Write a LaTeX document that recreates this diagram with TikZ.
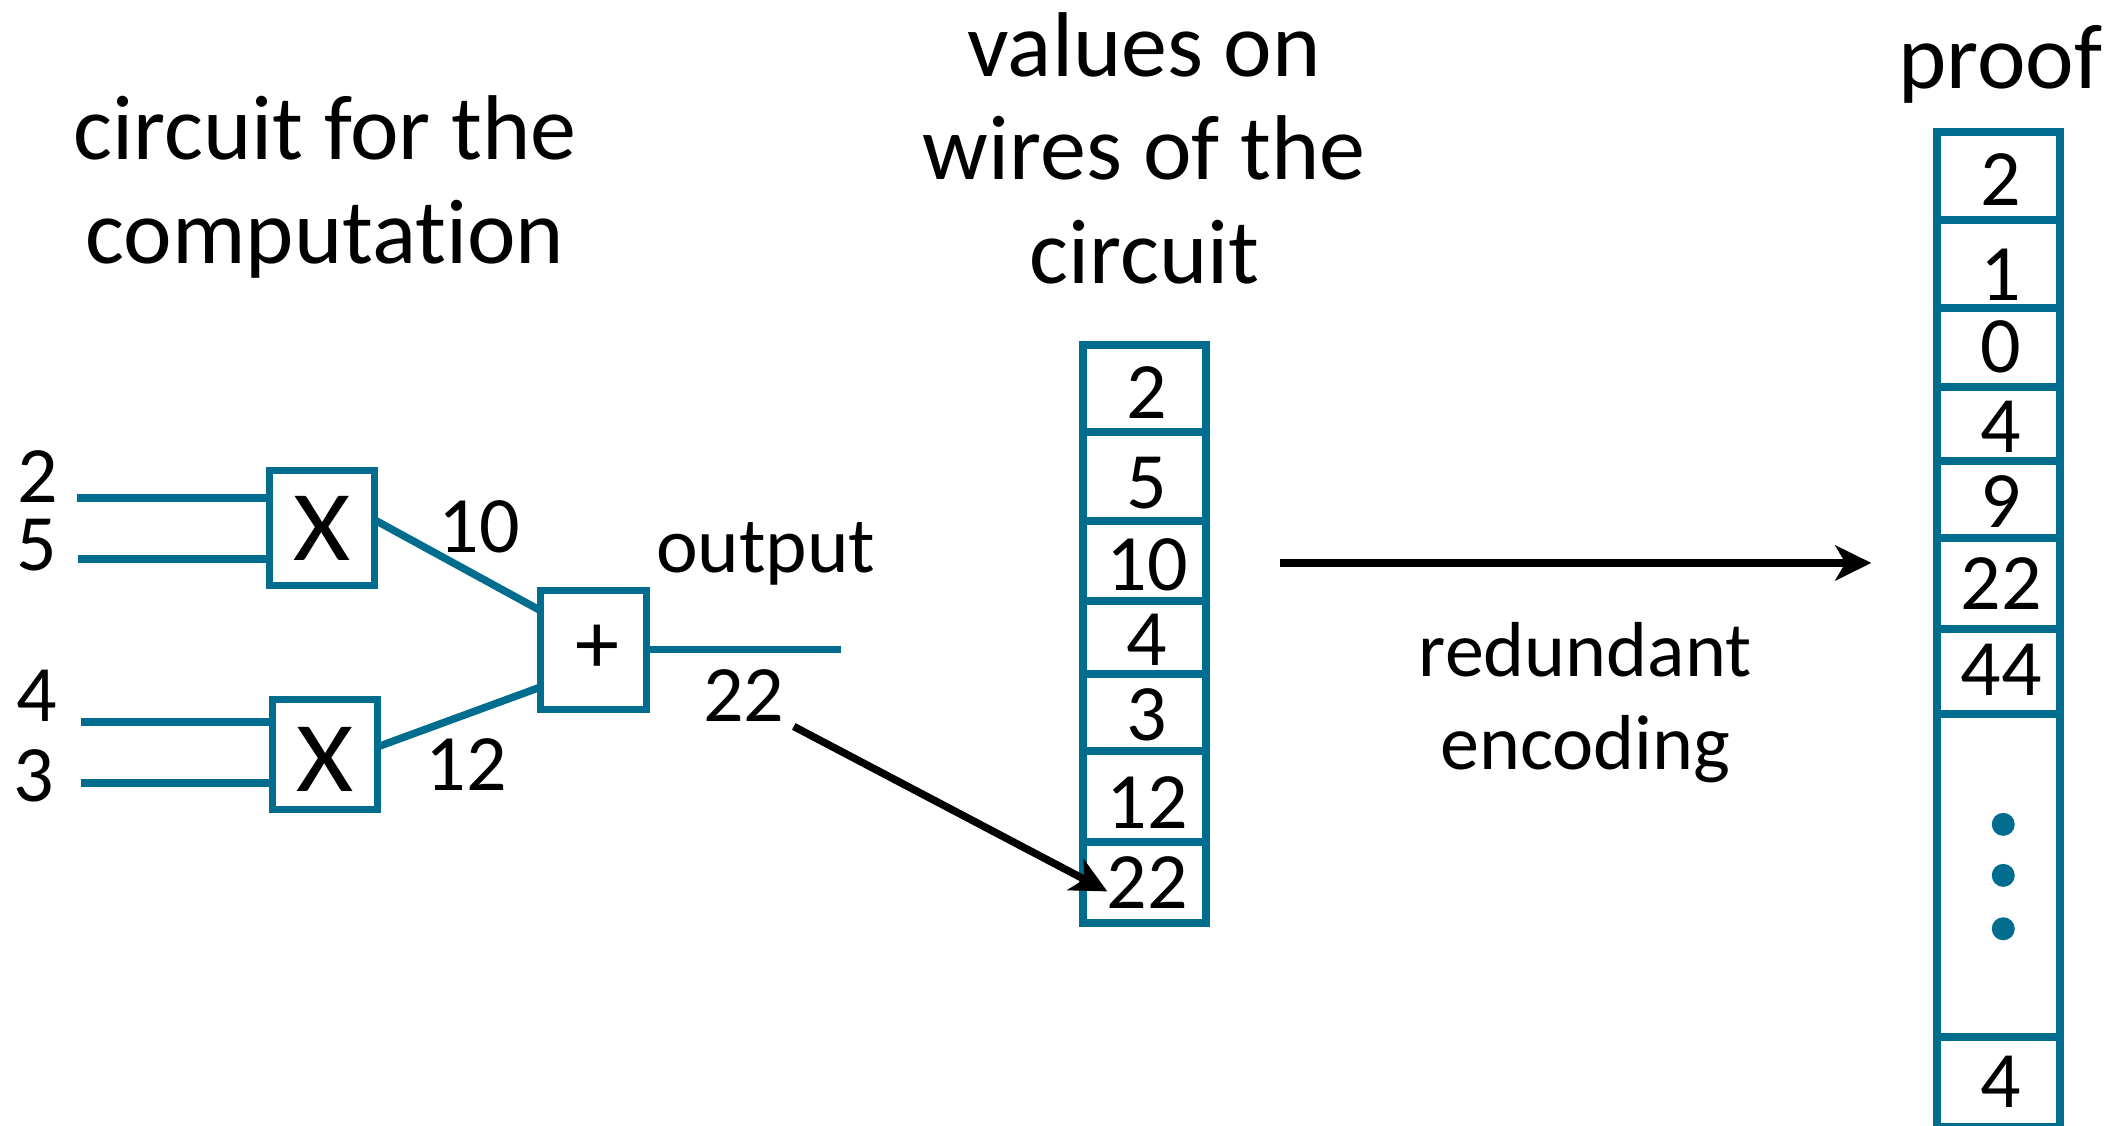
\documentclass[tikz,border=0pt]{standalone}
\usepackage{fontspec}
\setmainfont[Ligatures=NoCommon]{Carlito}
\usetikzlibrary{arrows.meta, positioning, calc}
\definecolor{wireteal}{RGB}{0,109,143}
\newcommand{\headfont}{\fontsize{46}{51.75}\selectfont}
\newcommand{\midfont}{\fontsize{39}{46.5}\selectfont}
\newcommand{\outfont}{\fontsize{39.5}{46}\selectfont}
\newcommand{\numfont}{\fontsize{40}{46}\selectfont}
\newcommand{\gatex}{\fontsize{50}{50}\selectfont\scalebox{1.1}[1]{X}}

\begin{document}
\begin{tikzpicture}[
                % Define styles
                gate/.style={rectangle, draw=wireteal, line width=3.5pt, minimum width=52.75pt, inner sep=0pt, outer sep=0pt, font=\numfont},
                wire/.style={draw=wireteal, line width=3.75pt},
                cell/.style={rectangle, draw=wireteal, line width=4pt, minimum width=61.7pt, inner sep=0pt, outer sep=0pt, text height=26pt, text depth=0pt, font=\numfont, execute at begin node=\hspace{3pt}},
                num/.style={inner sep=0pt, outer sep=0pt, font=\numfont},
                heading/.style={align=center, inner sep=0pt, outer sep=0pt, font=\headfont},
                dot/.style={circle, fill=wireteal, minimum size=11.5pt, inner sep=0pt, outer sep=0pt},
                line/.style={draw, -{Stealth[length=18pt, width=17.5pt, inset=5pt]}, line width=3.75pt}
            ]
            \useasboundingbox (0,0) rectangle (1060.5pt,-562.5pt);

            % --- Circuit ---

            % Gates
            \node [gate, minimum height=57.75pt] (mulA) at (161pt,-264pt) {\gatex};
            \node [gate, minimum height=55.25pt, text height=36.5pt, text depth=0pt, below=56.75pt of mulA, xshift=1.6pt] (mulB) {\gatex};
            \node [gate, minimum height=59.5pt, right=83pt of mulA, yshift=-60.75pt] (add) {\hspace{4pt}\fontsize{44}{44}\selectfont +};

            % Free ends of the wires
            \coordinate (inTwo) at (38.5pt,-249pt);
            \coordinate (inFive) at (39pt,-279.5pt);
            \coordinate (inFour) at (40.3pt,-361pt);
            \coordinate (inThree) at (40.3pt,-391.5pt);
            \coordinate [right=97.5pt of add.east] (outEnd);

            % Input values
            \node [num] (lblTwo) at (19pt,-238.3pt) {2};
            \node [num] (lblFive) at (18.5pt,-272.5pt) {5};
            \node [num] (lblFour) at (18.5pt,-348pt) {4};
            \node [num] (lblThree) at (17pt,-388pt) {3};

            % Wire values
            \node [num, right=32pt of mulA, yshift=0.5pt] (lblTen) {10};
            \node [num, right=24pt of mulB, yshift=-4.9pt] (lblTwelve) {12};
            \node [num, below=10pt of $(add.east)!0.5!(outEnd)$] (outVal) {22};
            \node [num, font=\outfont, above=32pt of $(add.east)!0.5!(outEnd)$, xshift=11pt] (outLbl) {output};

            \draw [wire] (inTwo) -- (inTwo -| mulA.west);
            \draw [wire] (inFive) -- (inFive -| mulA.west);
            \draw [wire] (inFour) -- (inFour -| mulB.west);
            \draw [wire] (inThree) -- (inThree -| mulB.west);
            \draw [wire] ([yshift=4pt]mulA.east) -- ([yshift=19.4pt]add.west);
            \draw [wire] ([yshift=3.9pt]mulB.east) -- ([yshift=-18.75pt]add.west);
            \draw [wire] (add.east) -- (outEnd);

            % --- Values on the wires ---
            \node [cell, minimum height=43.45pt, text height=29.5pt, right=218.15pt of add, yshift=130.5pt] (val1) {2};
            \node [cell, minimum height=44.45pt, text height=31.6pt, below=0pt of val1] (val2) {5};
            \node [cell, minimum height=40.1pt, text height=29.7pt, below=0pt of val2] (val3) {10};
            \node [cell, minimum height=36.4pt, text height=28pt, below=0pt of val3] (val4) {4};
            \node [cell, minimum height=38.6pt, text height=27.6pt, below=0pt of val4] (val5) {3};
            \node [cell, minimum height=45.35pt, text height=31.7pt, below=0pt of val5] (val6) {12};
            \node [cell, minimum height=40.65pt, below=0pt of val6] (val7) {22};

            % --- Proof ---
            \node [cell, minimum height=44pt, text height=29pt, right=365.3pt of val1, yshift=106.25pt] (prf1) {2};
            \node [cell, minimum height=44pt, text height=36.5pt, below=0pt of prf1] (prf2) {1};
            \node [cell, minimum height=39.5pt, text depth=1.2pt, below=0pt of prf2] (prf3) {0};
            \node [cell, minimum height=37pt, text height=28.4pt, below=0pt of prf3] (prf4) {4};
            \node [cell, minimum height=38.5pt, text height=27.5pt, below=0pt of prf4] (prf5) {9};
            \node [cell, minimum height=45.3pt, below=0pt of prf5] (prf6) {22};
            \node [cell, minimum height=42.7pt, text depth=2.3pt, below=0pt of prf6] (prf7) {44};
            \node [cell, minimum height=161.35pt, below=0pt of prf7] (prf8) {};
            \node [cell, minimum height=45.15pt, below=0pt of prf8] (prf9) {4};

            % Dots in the long cell
            \node [dot, xshift=2.5pt] (dotB) at (prf8.center) {};
            \node [dot, above=14pt of dotB] (dotA) {};
            \node [dot, below=15.2pt of dotB] (dotC) {};

            % --- Arrows ---
            \draw [line] ($(outVal)+(25pt,-15.5pt)$) -- ($(val7.west)+(12.4pt,-4.5pt)$);
            \draw [line, shorten <=37pt, shorten >=32.6pt] ([yshift=-1pt]val3.east) -- ([yshift=-1pt]val3.east -| prf6.west);

            % --- Headings ---
            \node [heading, above=96pt of mulA, xshift=1.5pt] (circuitHead) {circuit for the\\computation};
            \node [heading, above=30.5pt of val1] (valuesHead) {values on\\wires of the\\circuit};
            \node [heading, above=14.5pt of prf1, xshift=1pt] (proofHead) {proof};
            \node [heading, font=\midfont, below=29.5pt of val3.east, xshift=189.6pt, yshift=-1pt] (encodingHead) {redundant\\encoding};

        \end{tikzpicture}
\end{document}
